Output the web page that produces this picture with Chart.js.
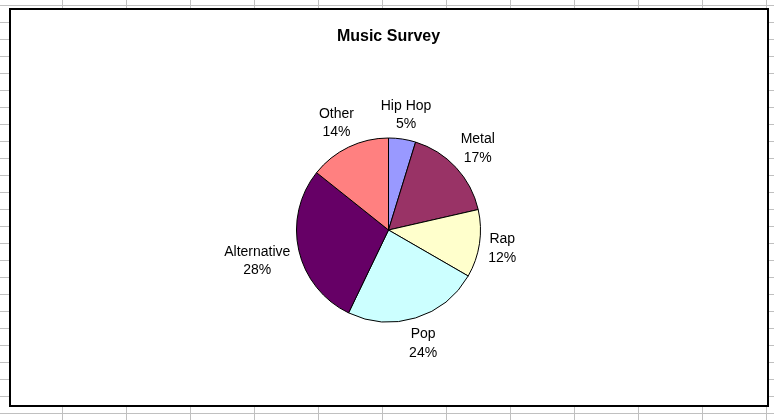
<!DOCTYPE html>
<html>
<head>
<meta charset="utf-8">
<title>Music Survey</title>
<script src="https://cdn.jsdelivr.net/npm/chart.js@4.4.0/dist/chart.umd.min.js"></script>
<style>
  html, body { margin: 0; padding: 0; }
  body {
    width: 774px;
    height: 420px;
    overflow: hidden;
    position: relative;
    background-color: #fff;
    /* spreadsheet cells behind the chart */
    background-image: linear-gradient(to right, #c0c0c0 1px, transparent 1px),
                      linear-gradient(to bottom, #c0c0c0 1px, transparent 1px);
    background-size: 64px 17px;
    background-position: 62px 5px;
  }
  #box {
    position: absolute;
    left: 9px;
    top: 8px;
    width: 760px;
    height: 399px;
    box-sizing: border-box;
    border: 2px solid #000;
    background: #fff;
  }
  #chart { position: absolute; left: 0; top: 0; }
</style>
</head>
<body>
<div id="box"><canvas id="chart" width="756" height="395"></canvas></div>
<script>
// survey answers (number of people per genre)
const categories = ['Hip Hop', 'Metal', 'Rap', 'Pop', 'Alternative', 'Other'];
const responses = [2, 7, 5, 10, 12, 6];
const sliceColors = ['#9999FF', '#993366', '#FFFFCC', '#CCFFFF', '#660066', '#FF8080'];

const FONT = '"Liberation Sans", Arial, sans-serif';

// round to whole percents that still add up to 100 (largest remainder)
function roundedPercents(values) {
    const total = values.reduce((a, b) => a + b, 0);
    const raw = values.map(v => v / total * 100);
    const out = raw.map(Math.floor);
    const left = 100 - out.reduce((a, b) => a + b, 0);
    raw.map((r, i) => [r - Math.floor(r), i])
        .sort((a, b) => b[0] - a[0])
        .slice(0, left)
        .forEach(([, i]) => out[i]++);
    return out;
}

// name + percent written outside each slice
const sliceLabels = {
    id: 'sliceLabels',
    afterDatasetsDraw(chart) {
        const ctx = chart.ctx;
        const meta = chart.getDatasetMeta(0);
        const pct = roundedPercents(chart.data.datasets[0].data);
        ctx.save();
        ctx.font = '14px ' + FONT;
        ctx.fillStyle = '#000';
        ctx.textAlign = 'center';
        ctx.textBaseline = 'alphabetic';
        meta.data.forEach((arc, i) => {
            const p = arc.getProps(['x', 'y', 'startAngle', 'endAngle', 'outerRadius']);
            const mid = (p.startAngle + p.endAngle) / 2;
            const dx = Math.cos(mid), dy = Math.sin(mid);
            const line1 = chart.data.labels[i];
            const line2 = pct[i] + '%';
            const halfW = Math.max(ctx.measureText(line1).width, ctx.measureText(line2).width) / 2;
            const halfH = 15;
            const dist = p.outerRadius + 7 + Math.abs(dx) * halfW + Math.abs(dy) * halfH;
            const cx = p.x + dx * dist;
            const cy = p.y + dy * dist;
            ctx.fillText(line1, cx, cy - 4);
            ctx.fillText(line2, cx, cy + 14.4);
        });
        ctx.restore();
    }
};

new Chart(document.getElementById('chart').getContext('2d'), {
    type: 'pie',
    data: {
        labels: categories,
        datasets: [{
            data: responses,
            backgroundColor: sliceColors,
            borderColor: '#000',
            borderWidth: 1
        }]
    },
    options: {
        responsive: false,
        animation: false,
        layout: {
            padding: { left: 285, right: 286, top: 0, bottom: 82.5 }
        },
        plugins: {
            legend: { display: false },
            tooltip: { enabled: false },
            title: {
                display: true,
                text: 'Music Survey',
                color: '#000',
                font: { family: FONT, size: 16, weight: 'bold' },
                padding: { top: 16.5, bottom: 91.8 }
            }
        }
    },
    plugins: [sliceLabels]
});
</script>
</body>
</html>
